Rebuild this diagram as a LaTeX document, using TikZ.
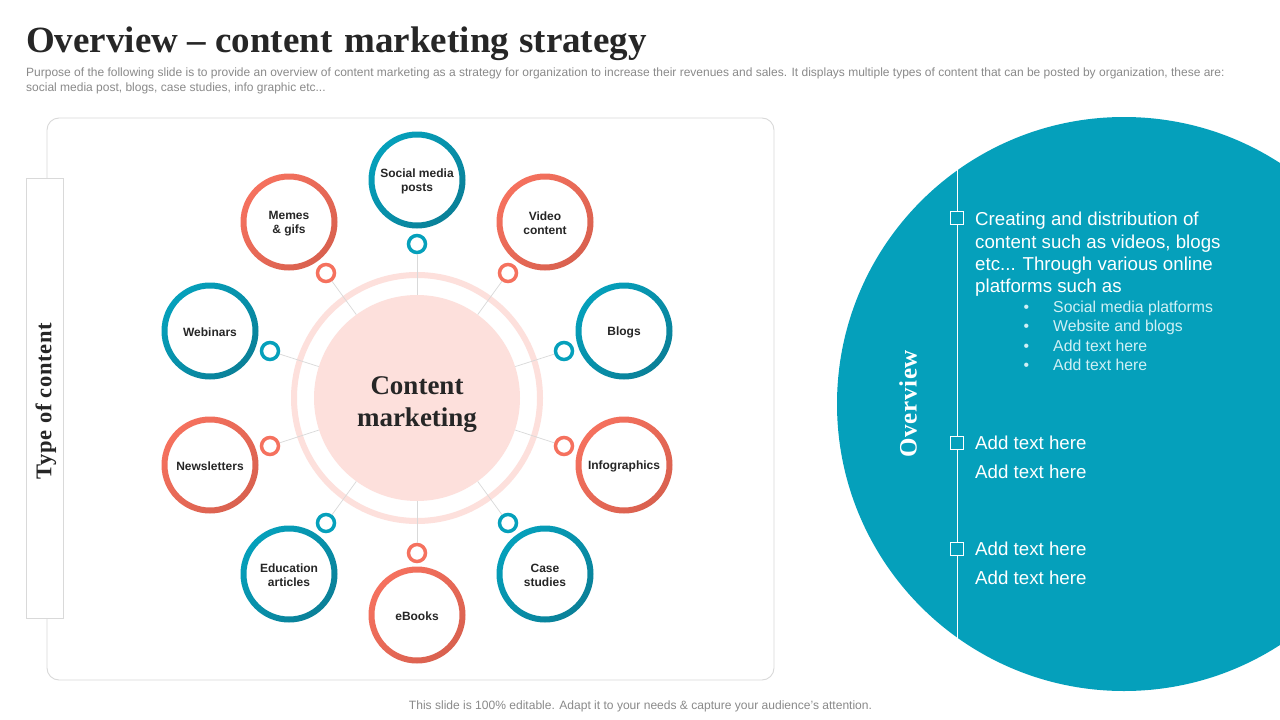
\documentclass[tikz,border=0pt]{standalone}
\usepackage{fontspec}
\setmainfont{Liberation Sans}
\newfontfamily\serifb[Scale=1]{Liberation Serif}
\newfontfamily\serifs[LetterSpace=3]{Liberation Serif}
\definecolor{tealc}{HTML}{05A0BB}
\definecolor{teald}{HTML}{0A8098}
\definecolor{coral}{HTML}{F5715E}
\definecolor{corald}{HTML}{D9614F}
\definecolor{pinkc}{HTML}{FDE0DC}
\definecolor{grayt}{HTML}{8A8A8A}
\definecolor{linec}{HTML}{D9D9D9}
\definecolor{darkt}{HTML}{262626}
\definecolor{bulc}{HTML}{CFF0F5}
\tikzset{
 x=1pt,y=-1pt,
 inner/.style={circle,inner sep=0pt,align=center,text=darkt,
   font=\fontsize{12}{14}\selectfont\bfseries},
 ring/.style={circle,draw=#1,line width=3.5pt,fill=white,minimum size=17pt,inner sep=0pt},
 conn/.style={draw=linec,line width=0.7pt},
 hd/.style={anchor=base west,inner sep=0pt,text=white,font=\fontsize{18.7}{22}\selectfont},
 sub/.style={anchor=base west,inner sep=0pt,text=bulc,font=\fontsize{15.8}{20}\selectfont},
 sq/.style={draw=white,fill=tealc,line width=0.8pt,minimum size=13pt,inner sep=0pt},
 small/.style={anchor=base west,inner sep=0pt,text=grayt,font=\fontsize{12}{14}\selectfont},
}
\newcommand{\bubble}[6]{% name x y col dark text
 \shade[even odd rule,shading=axis,left color=#4,middle color=#4,right color=#5,shading angle=45] (#2,#3) circle[radius=48.5] (#2,#3) circle[radius=42.5];
 \node[inner] (#1) at (#2,#3+1.5) {#6};
}
\begin{document}
\begin{tikzpicture}
\useasboundingbox (0,0) rectangle (1280,720);
\fill[white] (0,0) rectangle (1280,720);
% big circle
\begin{scope}
\clip (0,0) rectangle (1280,720);
\fill[tealc] (1124,404) circle[radius=287];
\end{scope}
% panel
\draw[draw=linec,line width=0.9pt,rounded corners=12pt] (47,118) rectangle (774,680);
\node[draw=linec,fill=white,line width=0.9pt,minimum width=37.5pt,minimum height=440pt,inner sep=0pt] (typebox) at (45,398) {};
\node[rotate=90,text=darkt,font=\serifs\fontsize{22.5}{28}\selectfont\bfseries,inner sep=0pt] (typetxt) at (46,401) {Type of content};
% title
\node[anchor=base west,inner sep=0pt,text=darkt,font=\serifb\fontsize{37}{44}\selectfont\bfseries] (title) at (26,52) {Overview – content\hspace{3pt} marketing\hspace{1pt} strategy};
\node[small] (s1) at (26,76.5) {Purpose of the following slide is to provide an overview of content marketing as a strategy for organization to increase their revenues and sales. It displays multiple types of content that can be posted by organization, these are:};
\node[small] (s2) at (26,91) {social media post, blogs, case studies, info graphic etc...};
\node[small,anchor=base,font=\fontsize{12.05}{14}\selectfont] (foot) at (640.5,709.5) {This slide is 100\% editable. Adapt it to your needs \& capture your audience's attention.};
% centre
\draw[pinkc,line width=6pt] (417,398) circle[radius=123];
\node[circle,fill=pinkc,minimum size=206pt,inner sep=0pt] (centre) at (417,398) {};
\node[align=center,inner sep=0pt,text=darkt,font=\serifb\fontsize{27}{32}\selectfont\bfseries] (centretxt) at (417,405) {Content\\marketing};
% bubbles
\bubble{social}{417}{180}{tealc}{teald}{Social media\\posts}
\bubble{memes}{289}{222}{coral}{corald}{Memes\\\& gifs}
\bubble{video}{545}{222}{coral}{corald}{Video\\content}
\bubble{webinars}{210}{331}{tealc}{teald}{Webinars}
\bubble{blogs}{624}{331}{tealc}{teald}{Blogs}
\bubble{news}{210}{465}{coral}{corald}{Newsletters}
\bubble{info}{624}{465}{coral}{corald}{Infographics}
\bubble{edu}{289}{574}{tealc}{teald}{Education\\articles}
\bubble{case}{545}{574}{tealc}{teald}{Case\\studies}
\bubble{ebooks}{417}{615}{coral}{corald}{eBooks}
% small rings
\node[ring=tealc] (r1) at (417,244) {};
\node[ring=coral] (r2) at (326,273) {};
\node[ring=coral] (r3) at (508,273) {};
\node[ring=tealc] (r4) at (270,351) {};
\node[ring=tealc] (r5) at (564,351) {};
\node[ring=coral] (r6) at (270,446) {};
\node[ring=coral] (r7) at (564,446) {};
\node[ring=tealc] (r8) at (326,523) {};
\node[ring=tealc] (r9) at (508,523) {};
\node[ring=coral] (r10) at (417,553) {};
\foreach \r in {r1,r2,r3,r4,r5,r6,r7,r8,r9,r10} \draw[conn] (\r) -- (centre);
% right panel
\node[inner sep=0pt,minimum width=0pt,minimum height=468pt] (vl) at (957,404) {};
\draw[white,line width=0.9pt] (vl.north) -- (vl.south);
\node[sq] (q1) at (957,218) {};
\node[sq] (q2) at (957,443) {};
\node[sq] (q3) at (957,549) {};
\node[rotate=90,text=white,font=\serifs\fontsize{25}{30}\selectfont\bfseries,inner sep=0pt] (ov) at (908,404) {Overview};
\node[hd] (h1) at (975,225) {Creating and distribution of};
\node[hd] (h2) at (975,248) {content such as videos, blogs};
\node[hd] (h3) at (975,270) {etc... Through various online};
\node[hd] (h4) at (975,292) {platforms such as};
\node[sub] (b1) at (1023.5,312) {•}; \node[sub] (t1) at (1053,312) {Social media platforms};
\node[sub] (b2) at (1023.5,331) {•}; \node[sub] (t2) at (1053,331) {Website and blogs};
\node[sub] (b3) at (1023.5,351) {•}; \node[sub] (t3) at (1053,351) {Add text here};
\node[sub] (b4) at (1023.5,370) {•}; \node[sub] (t4) at (1053,370) {Add text here};
\node[hd] (a1) at (975,449) {Add text here};
\node[hd] (a2) at (975,478) {Add text here};
\node[hd] (a3) at (975,555) {Add text here};
\node[hd] (a4) at (975,584) {Add text here};
\end{tikzpicture}
\end{document}
